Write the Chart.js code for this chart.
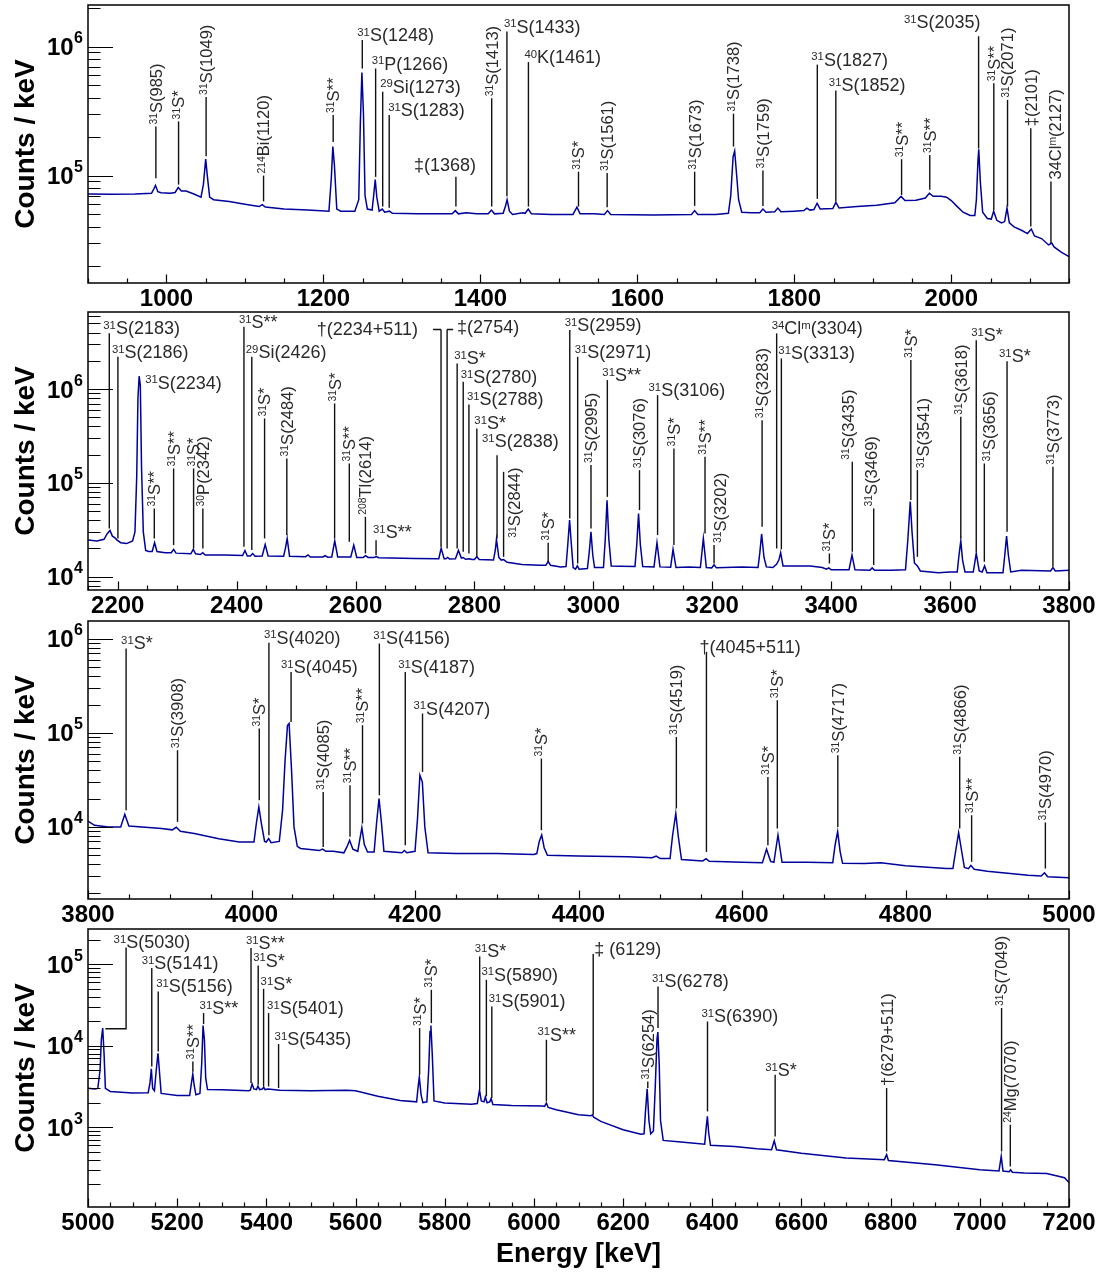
<!DOCTYPE html>
<html>
<head>
<meta charset="utf-8">
<script src="https://cdn.jsdelivr.net/npm/chart.js@4.4.1/dist/chart.umd.min.js"></script>
<style>
  html, body { margin: 0; padding: 0; background: #fff; }
  body { position: relative; width: 1107px; height: 1274px; overflow: hidden; }
  canvas { position: absolute; left: 0; }
</style>
</head>
<body>
<canvas id="c1" width="1107" height="323" style="top:0px"></canvas>
<canvas id="c2" width="1107" height="323" style="top:307px"></canvas>
<canvas id="c3" width="1107" height="323" style="top:616px"></canvas>
<canvas id="c4" width="1107" height="350" style="top:924px"></canvas>
<script>
// ---- Gamma-ray spectrum, [energy keV, counts/keV] ----
const spectrum1 = [[900,7.2e4],[930,7.15e4],[960,7.2e4],[981,7.3e4],[984,7.9e4],[986,8.4e4],[989,7.5e4],[993,7.35e4],[1005,7.3e4],[1011,7.4e4],[1015,8.1e4],[1019,7.6e4],[1025,7.6e4],[1035,7.2e4],[1044,6.8e4],[1047,8.5e4],[1050,1.34e5],[1052,1.0e5],[1055,6.8e4],[1060,6.5e4],[1080,6.3e4],[1100,6.0e4],[1118,5.75e4],[1122,5.95e4],[1126,5.7e4],[1150,5.5e4],[1180,5.4e4],[1207,5.3e4],[1210,9.5e4],[1212,1.68e5],[1214,1.2e5],[1217,5.5e4],[1222,5.3e4],[1240,5.3e4],[1245,6.5e4],[1247,2.5e5],[1249,6.3e5],[1251,3.0e5],[1253,7.0e4],[1256,5.5e4],[1262,5.4e4],[1264,7.0e4],[1266,9.3e4],[1268,6.8e4],[1271,5.3e4],[1275,5.5e4],[1278,5.2e4],[1284,5.3e4],[1288,5.1e4],[1320,5.05e4],[1364,5.05e4],[1368,5.35e4],[1372,5.05e4],[1382,5.15e4],[1395,5.05e4],[1410,5.05e4],[1414,5.4e4],[1418,5.05e4],[1429,5.1e4],[1432,5.8e4],[1434,6.5e4],[1437,5.3e4],[1441,5.0e4],[1454,5.15e4],[1457,5.1e4],[1461,5.5e4],[1465,5.05e4],[1490,5.0e4],[1518,5.0e4],[1523,5.7e4],[1527,5.05e4],[1545,5.05e4],[1558,5.0e4],[1562,5.35e4],[1566,5.0e4],[1620,4.95e4],[1669,5.0e4],[1673,5.35e4],[1677,5.0e4],[1700,5.0e4],[1716,5.1e4],[1719,7.0e4],[1722,1.4e5],[1724,1.55e5],[1726,1.1e5],[1729,6.5e4],[1733,5.2e4],[1745,5.15e4],[1756,5.15e4],[1760,5.5e4],[1764,5.2e4],[1775,5.25e4],[1779,5.6e4],[1783,5.25e4],[1800,5.3e4],[1812,5.35e4],[1816,5.6e4],[1820,5.4e4],[1825,5.45e4],[1829,6.1e4],[1833,5.5e4],[1849,5.55e4],[1853,6.2e4],[1857,5.6e4],[1880,5.75e4],[1905,5.9e4],[1928,6.15e4],[1936,6.9e4],[1941,6.4e4],[1955,6.45e4],[1967,6.7e4],[1972,7.3e4],[1977,6.9e4],[1987,6.9e4],[1994,6.8e4],[2000,6.4e4],[2007,5.8e4],[2015,5.2e4],[2024,4.9e4],[2030,4.9e4],[2032,6.5e4],[2034,1.3e5],[2035,1.6e5],[2037,9.0e4],[2040,5.2e4],[2046,4.65e4],[2051,4.6e4],[2054,5.3e4],[2058,4.5e4],[2064,4.3e4],[2068,4.4e4],[2071,5.6e4],[2074,4.3e4],[2080,4.0e4],[2090,3.75e4],[2097,3.55e4],[2102,3.85e4],[2106,3.4e4],[2115,3.25e4],[2124,2.9e4],[2128,3.0e4],[2131,2.8e4],[2140,2.55e4],[2150,2.35e4]];

const spectrum2 = [[2150,2.45e4],[2165,2.4e4],[2177,2.5e4],[2182,2.85e4],[2187,3.1e4],[2191,2.7e4],[2195,2.6e4],[2199,2.45e4],[2205,2.3e4],[2215,2.25e4],[2225,2.4e4],[2229,3.0e4],[2232,1.2e5],[2234,8e5],[2236,1.37e6],[2238,1.1e6],[2240,1.5e5],[2243,3.0e4],[2247,1.9e4],[2252,1.85e4],[2258,1.85e4],[2262,2.3e4],[2266,1.85e4],[2280,1.8e4],[2290,1.8e4],[2294,1.95e4],[2298,1.78e4],[2323,1.75e4],[2327,1.95e4],[2331,1.75e4],[2339,1.72e4],[2343,1.8e4],[2347,1.7e4],[2380,1.7e4],[2410,1.68e4],[2414,1.9e4],[2418,1.66e4],[2423,1.66e4],[2427,1.76e4],[2431,1.65e4],[2443,1.66e4],[2448,2.2e4],[2453,1.66e4],[2479,1.65e4],[2482,2.0e4],[2485,2.55e4],[2489,1.65e4],[2516,1.63e4],[2520,1.7e4],[2524,1.62e4],[2545,1.62e4],[2549,1.67e4],[2553,1.61e4],[2560,1.62e4],[2565,2.4e4],[2570,1.62e4],[2592,1.62e4],[2597,2.17e4],[2602,1.6e4],[2613,1.6e4],[2617,1.67e4],[2621,1.6e4],[2631,1.6e4],[2635,1.64e4],[2639,1.59e4],[2700,1.56e4],[2740,1.55e4],[2744,2.0e4],[2749,1.55e4],[2752,1.55e4],[2755,1.6e4],[2758,1.54e4],[2768,1.55e4],[2773,1.9e4],[2778,1.58e4],[2781,1.6e4],[2785,1.53e4],[2791,1.55e4],[2796,1.52e4],[2800,1.52e4],[2804,1.63e4],[2808,1.52e4],[2832,1.5e4],[2835,1.9e4],[2837,2.5e4],[2841,1.6e4],[2845,1.5e4],[2849,1.52e4],[2855,1.42e4],[2880,1.35e4],[2910,1.32e4],[2920,1.32e4],[2924,1.45e4],[2928,1.32e4],[2945,1.27e4],[2954,1.28e4],[2957,2.2e4],[2960,4.0e4],[2963,2.2e4],[2966,1.25e4],[2970,1.2e4],[2973,1.3e4],[2976,1.2e4],[2990,1.22e4],[2993,1.8e4],[2996,3.0e4],[2999,1.7e4],[3002,1.25e4],[3017,1.25e4],[3020,2.5e4],[3023,6.5e4],[3026,2.5e4],[3030,1.3e4],[3045,1.29e4],[3070,1.28e4],[3073,2.2e4],[3076,4.7e4],[3079,2.2e4],[3083,1.28e4],[3102,1.27e4],[3107,2.3e4],[3112,1.27e4],[3130,1.26e4],[3134,1.95e4],[3139,1.25e4],[3160,1.27e4],[3180,1.25e4],[3185,2.55e4],[3190,1.25e4],[3199,1.24e4],[3203,1.34e4],[3207,1.24e4],[3250,1.27e4],[3277,1.25e4],[3280,1.8e4],[3283,2.85e4],[3287,1.6e4],[3291,1.27e4],[3302,1.25e4],[3308,1.35e4],[3312,1.5e4],[3315,1.8e4],[3319,1.3e4],[3340,1.3e4],[3365,1.3e4],[3385,1.25e4],[3392,1.2e4],[3396,1.24e4],[3400,1.18e4],[3430,1.18e4],[3435,1.7e4],[3440,1.18e4],[3465,1.17e4],[3469,1.24e4],[3473,1.17e4],[3500,1.17e4],[3525,1.18e4],[3529,2.5e4],[3533,6.3e4],[3536,3.0e4],[3540,1.4e4],[3545,1.3e4],[3550,1.15e4],[3580,1.1e4],[3600,1.12e4],[3612,1.12e4],[3615,1.7e4],[3618,2.4e4],[3621,1.5e4],[3625,1.12e4],[3639,1.12e4],[3644,1.77e4],[3649,1.15e4],[3654,1.12e4],[3658,1.3e4],[3662,1.1e4],[3689,1.1e4],[3692,1.7e4],[3695,2.7e4],[3698,1.7e4],[3702,1.12e4],[3720,1.17e4],[3769,1.15e4],[3773,1.25e4],[3777,1.15e4],[3800,1.17e4]];

const spectrum3 = [[3800,1.15e4],[3808,1.04e4],[3825,1.0e4],[3840,1.0e4],[3845,1.36e4],[3850,1.02e4],[3870,9.9e3],[3890,9.6e3],[3903,9.3e3],[3908,9.9e3],[3913,9.0e3],[3930,8.5e3],[3960,7.5e3],[3985,6.9e3],[4003,6.9e3],[4006,1.1e4],[4009,1.63e4],[4012,1.1e4],[4016,7.0e3],[4018,6.9e3],[4021,7.5e3],[4024,6.8e3],[4034,7.0e3],[4038,1.5e4],[4041,5.0e4],[4044,1.2e5],[4046,1.26e5],[4049,4.0e4],[4052,1.0e4],[4056,6.2e3],[4060,5.9e3],[4083,5.6e3],[4087,5.8e3],[4091,5.5e3],[4100,5.5e3],[4113,5.3e3],[4117,6.2e3],[4120,7.2e3],[4124,5.8e3],[4130,5.5e3],[4133,7.8e3],[4135,9.8e3],[4138,6.5e3],[4142,5.4e3],[4150,5.4e3],[4153,1.1e4],[4156,2.0e4],[4159,1.1e4],[4162,5.5e3],[4184,5.3e3],[4187,5.6e3],[4190,5.3e3],[4200,5.5e3],[4203,1.2e4],[4206,3.55e4],[4209,3.0e4],[4212,1.0e4],[4216,5.3e3],[4250,5.2e3],[4300,5.2e3],[4345,5.1e3],[4349,5.2e3],[4352,7.0e3],[4355,8.2e3],[4358,6.0e3],[4362,5.0e3],[4400,4.9e3],[4460,4.8e3],[4490,4.7e3],[4495,4.9e3],[4500,4.6e3],[4512,4.6e3],[4515,8.0e3],[4519,1.39e4],[4522,8.0e3],[4526,4.5e3],[4552,4.35e3],[4556,4.6e3],[4560,4.3e3],[4600,4.2e3],[4625,4.15e3],[4630,5.8e3],[4635,4.3e3],[4639,4.2e3],[4644,8.2e3],[4649,4.2e3],[4680,4.2e3],[4711,4.15e3],[4714,6.5e3],[4717,8.9e3],[4720,5.5e3],[4723,4.1e3],[4750,4.07e3],[4770,4.15e3],[4800,3.85e3],[4850,3.6e3],[4858,3.6e3],[4862,6.0e3],[4865,8.7e3],[4868,6.0e3],[4872,3.7e3],[4877,3.6e3],[4880,3.9e3],[4884,3.55e3],[4900,3.38e3],[4950,3.06e3],[4966,3.0e3],[4970,3.25e3],[4974,2.95e3],[5000,2.87e3]];

const spectrum4 = [[5000,3.0e3],[5015,2.95e3],[5022,3.0e3],[5027,5.0e3],[5030,1.2e4],[5033,1.65e4],[5036,8.0e3],[5039,3.0e3],[5050,2.75e3],[5100,2.63e3],[5135,2.65e3],[5139,3.5e3],[5142,5.2e3],[5145,3.0e3],[5149,2.8e3],[5153,5.0e3],[5157,8.1e3],[5160,5.0e3],[5164,2.6e3],[5200,2.46e3],[5228,2.45e3],[5232,3.5e3],[5235,4.5e3],[5238,3.3e3],[5242,2.5e3],[5251,2.6e3],[5255,6.0e3],[5258,1.77e4],[5261,1.2e4],[5264,4.0e3],[5268,2.9e3],[5300,2.88e3],[5360,2.8e3],[5364,2.85e3],[5368,3.4e3],[5372,2.95e3],[5378,2.9e3],[5381,3.2e3],[5385,2.9e3],[5391,2.95e3],[5394,3.1e3],[5397,2.9e3],[5404,2.95e3],[5430,2.85e3],[5500,2.8e3],[5580,2.85e3],[5600,2.8e3],[5650,2.4e3],[5700,2.13e3],[5737,2.05e3],[5740,3.0e3],[5743,4.1e3],[5747,2.5e3],[5751,2.0e3],[5760,2.05e3],[5764,5.0e3],[5767,1.5e4],[5769,1.77e4],[5772,8.0e3],[5776,2.1e3],[5800,1.98e3],[5860,1.92e3],[5873,1.95e3],[5878,2.85e3],[5882,2.1e3],[5888,2.05e3],[5891,2.35e3],[5895,2.0e3],[5901,2.05e3],[5904,2.25e3],[5908,1.9e3],[5950,1.85e3],[6020,1.82e3],[6024,1.8e3],[6028,1.98e3],[6032,1.75e3],[6050,1.64e3],[6100,1.42e3],[6128,1.38e3],[6131,1.42e3],[6134,1.33e3],[6150,1.18e3],[6200,9.3e2],[6240,8.2e2],[6247,8.3e2],[6250,1.5e3],[6254,2.97e3],[6258,1.2e3],[6262,8.3e2],[6268,9.0e2],[6272,3.0e3],[6276,1.2e4],[6278,1.47e4],[6281,6.0e3],[6284,1.2e3],[6290,6.9e2],[6330,6.6e2],[6383,6.2e2],[6386,9.5e2],[6389,1.36e3],[6392,8.5e2],[6396,6.0e2],[6450,5.8e2],[6500,5.45e2],[6533,5.3e2],[6539,6.8e2],[6544,5.3e2],[6600,4.8e2],[6700,4.2e2],[6786,4.0e2],[6791,4.6e2],[6795,3.9e2],[6900,3.47e2],[7000,3.0e2],[7043,2.9e2],[7048,4.4e2],[7052,2.9e2],[7066,2.85e2],[7069,3.0e2],[7073,2.8e2],[7100,2.74e2],[7150,2.7e2],[7190,2.4e2],[7200,2.1e2]];

// ---- Line identifications: e = energy of marker line, top/bot = log10(counts) of line ends ----
// v: vertical text (tx/ty shift it in px); otherwise horizontal text at line top (dx/dy in px)
const labels1 = [
  {e:986.5, top:5.38, bot:4.98, t:'^{31}S(985)', v:true},
  {e:1015.4, top:5.42, bot:4.93, t:'^{31}S*', v:true},
  {e:1050.5, top:5.61, bot:5.15, t:'^{31}S(1049)', v:true},
  {e:1123.7, top:5.0, bot:4.80, t:'^{214}Bi(1120)', v:true},
  {e:1212.4, top:5.47, bot:5.26, t:'^{31}S**', v:true},
  {e:1249.5, top:6.05, bot:5.83, t:'^{31}S(1248)', dx:-5},
  {e:1266.5, top:5.83, bot:4.99, t:'^{31}P(1266)', dx:-4},
  {e:1275.5, top:5.65, bot:4.76, t:'^{29}Si(1273)', dx:-2.5},
  {e:1283.8, top:5.47, bot:4.75, t:'^{31}S(1283)', dx:-1},
  {e:1368.8, top:4.99, bot:4.76, t:'‡(1368)', dx:-42, dy:-6},
  {e:1414.4, top:5.60, bot:4.76, t:'^{31}S(1413)', v:true},
  {e:1433.8, top:6.116, bot:4.84, t:'^{31}S(1433)', dx:-3},
  {e:1461.2, top:5.88, bot:4.76, t:'^{40}K(1461)', dx:-4},
  {e:1525, top:5.03, bot:4.76, t:'^{31}S*', v:true},
  {e:1561.5, top:5.02, bot:4.755, t:'^{31}S(1561)', v:true},
  {e:1673, top:5.03, bot:4.765, t:'^{31}S(1673)', v:true},
  {e:1722.5, top:5.48, bot:5.225, t:'^{31}S(1738)', v:true},
  {e:1760, top:5.04, bot:4.765, t:'^{31}S(1759)', v:true},
  {e:1829.3, top:5.86, bot:4.82, t:'^{31}S(1827)', dx:-6},
  {e:1852.9, top:5.66, bot:4.80, t:'^{31}S(1852)', dx:-7},
  {e:1936.7, top:5.127, bot:4.85, t:'^{31}S**', v:true},
  {e:1972.6, top:5.16, bot:4.89, t:'^{31}S**', v:true},
  {e:2034.8, top:6.08, bot:5.21, t:'^{31}S(2035)', right:true, dx:2, dy:-8},
  {e:2054.2, top:5.716, bot:4.734, t:'^{31}S**', v:true},
  {e:2071.7, top:5.587, bot:4.76, t:'^{31}S(2071)', v:true},
  {e:2101.3, top:5.367, bot:4.605, t:'‡(2101)', v:true},
  {e:2127, top:4.954, bot:4.476, t:'34Cl^{m}(2127)', v:true, tx:4}
];

const labels2 = [
  {e:2185.8, top:6.593, bot:4.514, t:'^{31}S(2183)', dx:-6},
  {e:2200.3, top:6.343, bot:4.407, t:'^{31}S(2186)', dx:-6},
  {e:2236, top:6.016, t:'^{31}S(2234)', dx:6, noLine:true},
  {e:2261.5, top:4.727, bot:4.407, t:'^{31}S**', v:true},
  {e:2294, top:5.153, bot:4.336, t:'^{31}S**', v:true},
  {e:2327.6, top:5.153, bot:4.30, t:'^{31}S*', v:true},
  {e:2343.2, top:4.727, bot:4.30, t:'^{30}P(2342)', v:true},
  {e:2412.3, top:6.663, bot:4.318, t:'^{31}S**', dx:-5},
  {e:2425.5, top:6.343, bot:4.283, t:'^{29}Si(2426)', dx:-6},
  {e:2447, top:5.686, bot:4.407, t:'^{31}S*', v:true},
  {e:2484.4, top:5.26, bot:4.442, t:'^{31}S(2484)', v:true},
  {e:2564.8, top:5.846, bot:4.407, t:'^{31}S*', v:true},
  {e:2589.5, top:5.206, bot:4.371, t:'^{31}S**', v:true},
  {e:2616.6, top:4.638, bot:4.247, t:'^{208}Tl(2614)', v:true},
  {e:2634.5, top:4.389, bot:4.229, t:'^{31}S**', dx:-3, dy:-2},
  {e:2743.8, top:6.635, bot:4.318, t:'†(2234+511)', right:true, dx:-23, dy:5.5, hook:-8},
  {e:2754, top:6.635, bot:4.30, t:'‡(2754)', dx:10, dy:3.5, hook:6},
  {e:2770.9, top:6.273, bot:4.30, t:'^{31}S*', dx:-3},
  {e:2781.1, top:6.077, bot:4.264, t:'^{31}S(2780)', dx:-2.5},
  {e:2790.7, top:5.836, bot:4.247, t:'^{31}S(2788)', dx:-2},
  {e:2804, top:5.58, bot:4.211, t:'^{31}S*', dx:-2.5},
  {e:2838, top:5.295, bot:4.407, t:'^{31}S(2838)', dx:-15, dy:-8},
  {e:2849, top:5.117, bot:4.211, t:'^{31}S(2844)', v:true, tx:11, ty:68},
  {e:2924, top:4.36, bot:4.158, t:'^{31}S*', v:true},
  {e:2960.3, top:6.628, bot:4.62, t:'^{31}S(2959)', dx:-5},
  {e:2973.6, top:6.343, bot:4.14, t:'^{31}S(2971)', dx:-3},
  {e:2996, top:5.189, bot:4.514, t:'^{31}S(2995)', v:true},
  {e:3023.5, top:6.095, bot:4.85, t:'^{31}S**', dx:-5},
  {e:3077.6, top:5.135, bot:4.709, t:'^{31}S(3076)', v:true},
  {e:3108, top:5.935, bot:4.442, t:'^{31}S(3106)', dx:-9},
  {e:3135.5, top:5.367, bot:4.336, t:'^{31}S*', v:true},
  {e:3187.8, top:5.277, bot:4.46, t:'^{31}S**', v:true},
  {e:3203, top:4.336, bot:4.14, t:'^{31}S(3202)', v:true, tx:6},
  {e:3283.8, top:5.668, bot:4.531, t:'^{31}S(3283)', v:true},
  {e:3308.3, top:6.593, bot:4.30, t:'^{34}Cl^{m}(3304)', dx:-5},
  {e:3316.2, top:6.326, bot:4.29, t:'^{31}S(3313)', dx:-3},
  {e:3397, top:4.247, bot:4.14, t:'^{31}S*', v:true},
  {e:3435.5, top:5.224, bot:4.264, t:'^{31}S(3435)', v:true, tx:-4},
  {e:3471.5, top:4.727, bot:4.123, t:'^{31}S(3469)', v:true, tx:-3},
  {e:3534, top:6.308, bot:4.816, t:'^{31}S*', v:true},
  {e:3545, top:5.135, bot:4.211, t:'^{31}S(3541)', v:true, tx:6},
  {e:3618, top:5.704, bot:4.407, t:'^{31}S(3618)', v:true},
  {e:3644, top:6.52, bot:4.264, t:'^{31}S*', dx:-5},
  {e:3657.6, top:5.206, bot:4.158, t:'^{31}S(3656)', v:true, tx:5},
  {e:3695.8, top:6.297, bot:4.478, t:'^{31}S*', dx:-8},
  {e:3773, top:5.17, bot:4.104, t:'^{31}S(3773)', v:true}
];

const labels3 = [
  {e:3846.6, top:5.898, bot:4.178, t:'^{31}S*', dx:-5},
  {e:3909.5, top:4.816, bot:4.053, t:'^{31}S(3908)', v:true},
  {e:4009.5, top:5.047, bot:4.284, t:'^{31}S*', v:true},
  {e:4021.3, top:5.96, bot:3.912, t:'^{31}S(4020)', dx:-5},
  {e:4048.4, top:5.649, bot:5.117, t:'^{31}S(4045)', dx:-10},
  {e:4087.7, top:4.372, bot:3.787, t:'^{31}S(4085)', v:true},
  {e:4120.5, top:4.444, bot:3.894, t:'^{31}S**', v:true},
  {e:4135.8, top:5.082, bot:4.036, t:'^{31}S**', v:true},
  {e:4156.4, top:5.951, bot:4.337, t:'^{31}S(4156)', dx:-6},
  {e:4188.1, top:5.649, bot:3.805, t:'^{31}S(4187)', dx:-7},
  {e:4209.2, top:5.206, bot:4.585, t:'^{31}S(4207)', dx:-9},
  {e:4354.6, top:4.727, bot:3.965, t:'^{31}S*', v:true},
  {e:4519.7, top:4.957, bot:4.196, t:'^{31}S(4519)', v:true},
  {e:4556.5, top:5.862, bot:3.734, t:'†(4045+511)', dx:-7},
  {e:4631.7, top:4.532, bot:3.805, t:'^{31}S*', v:true},
  {e:4643.2, top:5.348, bot:3.983, t:'^{31}S*', v:true},
  {e:4717.2, top:4.763, bot:4.0, t:'^{31}S(4717)', v:true},
  {e:4866.3, top:4.745, bot:3.983, t:'^{31}S(4866)', v:true},
  {e:4880.9, top:4.124, bot:3.628, t:'^{31}S**', v:true},
  {e:4971.1, top:4.047, bot:3.557, t:'^{31}S(4970)', v:true}
];

const labels4 = [
  {e:5085.4, top:5.206, bot:4.209, t:'^{31}S(5030)', dx:-12.5, foot:5039},
  {e:5143, top:4.953, bot:3.746, t:'^{31}S(5141)', dx:-10},
  {e:5157.5, top:4.666, bot:3.93, t:'^{31}S(5156)', dx:-2},
  {e:5235.2, top:3.807, bot:3.685, t:'^{31}S**', v:true},
  {e:5259.2, top:4.401, bot:4.266, t:'^{31}S**', dx:-4},
  {e:5365.6, top:5.199, bot:3.542, t:'^{31}S**', dx:-5},
  {e:5381.7, top:4.985, bot:3.521, t:'^{31}S*', dx:-5},
  {e:5393.8, top:4.699, bot:3.501, t:'^{31}S*', dx:-3},
  {e:5405, top:4.401, bot:3.501, t:'^{31}S(5401)', dx:-1.5},
  {e:5427.4, top:4.021, bot:3.481, t:'^{31}S(5435)', dx:-4},
  {e:5743.7, top:4.217, bot:3.644, t:'^{31}S*', v:true},
  {e:5770, top:4.687, bot:4.278, t:'^{31}S*', v:true},
  {e:5878.4, top:5.096, bot:3.46, t:'^{31}S*', dx:-5},
  {e:5893.4, top:4.81, bot:3.378, t:'^{31}S(5890)', dx:-5},
  {e:5905.6, top:4.482, bot:3.358, t:'^{31}S(5901)', dx:-3},
  {e:6028, top:4.074, bot:3.317, t:'^{31}S**', dx:-9},
  {e:6133, top:5.125, bot:3.153, t:'‡ (6129)', dx:1},
  {e:6255.4, top:3.562, bot:3.481, t:'^{31}S(6254)', v:true},
  {e:6278.3, top:4.728, bot:4.217, t:'^{31}S(6278)', dx:-6},
  {e:6389.3, top:4.298, bot:3.194, t:'^{31}S(6390)', dx:-6},
  {e:6541, top:3.644, bot:2.887, t:'^{31}S*', dx:-10},
  {e:6791, top:3.481, bot:2.703, t:'†(6279+511)', v:true},
  {e:7048.8, top:4.463, bot:2.703, t:'^{31}S(7049)', v:true},
  {e:7068.4, top:3.031, bot:2.519, t:'^{24}Mg(7070)', v:true}
];

// ---- Axis ranges per panel ----
const xRanges = [[900, 2150], [2150, 3800], [3800, 5000], [5000, 7200]];
const yRanges = [[1.47e4, 2.1e6], [7.2e3, 6.62e6], [1.71e3, 1.55e6], [105, 2.71e5]];
const xTitle = 'Energy [keV]';
const yTitle = 'Counts / keV';

const FAMILY = '"Liberation Sans", Arial, Helvetica, sans-serif';
const LINE_COLOR = '#00009c';

// rich text with ^{...} superscripts
function parseRich(str) {
  const segs = [];
  const re = /\^\{([^}]*)\}|([^^]+)/g;
  let m;
  while ((m = re.exec(str))) {
    if (m[1] !== undefined) segs.push({t: m[1], sup: true});
    else segs.push({t: m[2], sup: false});
  }
  return segs;
}
function richWidth(ctx, str, size) {
  let w = 0;
  for (const s of parseRich(str)) {
    ctx.font = `${s.sup ? size * 0.63 : size}px ${FAMILY}`;
    w += ctx.measureText(s.t).width;
  }
  return w;
}
function drawRich(ctx, str, x, y, size) {
  let cx = x;
  const rise = 0.716 * size * 0.37 + 0.5;
  for (const s of parseRich(str)) {
    ctx.font = `${s.sup ? size * 0.63 : size}px ${FAMILY}`;
    ctx.fillText(s.t, cx, s.sup ? y - rise : y);
    cx += ctx.measureText(s.t).width;
  }
}

const spectrumPlugin = {
  id: 'spectrumDecor',
  afterDatasetsDraw(chart, args, opts) {
    const ctx = chart.ctx;
    const xs = chart.scales.x, ys = chart.scales.y;
    const area = chart.chartArea;
    ctx.save();
    ctx.strokeStyle = '#000';
    ctx.lineWidth = 1.2;
    // x tick marks (inside, every 50 keV, longer every 200 keV)
    ctx.beginPath();
    for (let v = Math.ceil(xs.min / 50) * 50; v <= xs.max; v += 50) {
      const px = Math.round(xs.getPixelForValue(v)) + 0.5;
      const len = (v % 200 === 0) ? 8.5 : 4.5;
      ctx.moveTo(px, area.bottom);
      ctx.lineTo(px, area.bottom - len);
    }
    // y tick marks (decades long, 2..9 short)
    const n0 = Math.floor(Math.log10(ys.min)), n1 = Math.ceil(Math.log10(ys.max));
    for (let n = n0; n <= n1; n++) {
      for (let k = 1; k <= 9; k++) {
        const v = k * Math.pow(10, n);
        if (v < ys.min || v > ys.max) continue;
        const py = Math.round(ys.getPixelForValue(v)) + 0.5;
        ctx.moveTo(area.left, py);
        ctx.lineTo(area.left + (k === 1 ? 25 : 12.5), py);
      }
    }
    ctx.stroke();
    // y tick labels 10^n
    ctx.fillStyle = '#000';
    ctx.textBaseline = 'alphabetic';
    for (let n = n0; n <= n1; n++) {
      const v = Math.pow(10, n);
      if (v < ys.min || v > ys.max) continue;
      const py = ys.getPixelForValue(v);
      ctx.font = `bold 16px ${FAMILY}`;
      const ew = ctx.measureText(String(n)).width;
      const right = area.left - 5;
      ctx.textAlign = 'left';
      ctx.fillText(String(n), right - ew, py - 3.5);
      ctx.font = `bold 24px ${FAMILY}`;
      ctx.textAlign = 'right';
      ctx.fillText('10', right - ew - 0.5, py + 8.6);
    }
    // frame
    ctx.lineWidth = 1.5;
    ctx.strokeRect(area.left, area.top, area.right - area.left, area.bottom - area.top);
    // line identifications
    const H = 18, V = 16.5;
    ctx.textAlign = 'left';
    ctx.textBaseline = 'alphabetic';
    ctx.strokeStyle = '#111';
    ctx.fillStyle = '#2a2a2a';
    ctx.lineWidth = 1.4;
    for (const lb of opts.labels) {
      const x = xs.getPixelForValue(lb.e);
      const yTop = ys.getPixelForValue(Math.pow(10, lb.top));
      if (!lb.noLine) {
        const yBot = ys.getPixelForValue(Math.pow(10, lb.bot));
        ctx.beginPath();
        ctx.moveTo(x, yTop);
        ctx.lineTo(x, yBot);
        if (lb.foot !== undefined) ctx.lineTo(xs.getPixelForValue(lb.foot), yBot);
        if (lb.hook) { ctx.moveTo(x, yTop); ctx.lineTo(x + lb.hook, yTop); }
        ctx.stroke();
      }
      if (lb.v) {
        ctx.save();
        ctx.translate(x + (lb.tx || 0), yTop - 2 + (lb.ty || 0));
        ctx.rotate(-Math.PI / 2);
        drawRich(ctx, lb.t, 0, 0.716 * V / 2, V);
        ctx.restore();
      } else {
        const dy = lb.dy !== undefined ? lb.dy : 1;
        let x0;
        if (lb.right) x0 = x + (lb.dx || 0) - richWidth(ctx, lb.t, H);
        else x0 = x + (lb.dx !== undefined ? lb.dx : -5);
        drawRich(ctx, lb.t, x0, yTop + dy, H);
      }
    }
    ctx.restore();
  }
};

const spectra = [spectrum1, spectrum2, spectrum3, spectrum4];
const labelSets = [labels1, labels2, labels3, labels4];

spectra.forEach((spec, i) => {
  const last = i === 3;
  new Chart(document.getElementById('c' + (i + 1)), {
    type: 'line',
    data: {
      datasets: [{
        data: spec.map(([x, y]) => ({x, y})),
        borderColor: LINE_COLOR,
        borderWidth: 1.5,
        pointRadius: 0,
        tension: 0,
        fill: false
      }]
    },
    options: {
      responsive: false,
      animation: false,
      devicePixelRatio: 1,
      events: [],
      layout: {padding: {top: 5, right: 38, left: 0, bottom: 0}},
      plugins: {
        legend: {display: false},
        tooltip: {enabled: false},
        spectrumDecor: {labels: labelSets[i]}
      },
      scales: {
        x: {
          type: 'linear',
          min: xRanges[i][0],
          max: xRanges[i][1],
          grid: {display: false, drawTicks: false},
          border: {display: false},
          ticks: {
            stepSize: 50,
            autoSkip: false,
            maxRotation: 0,
            padding: 2,
            color: '#000',
            font: {family: FAMILY, size: 24, weight: 'bold'},
            callback: v => (v % 200 === 0 ? String(v) : '')
          },
          title: {
            display: last,
            text: xTitle,
            color: '#000',
            font: {family: FAMILY, size: 27, weight: 'bold'},
            padding: {top: 0, bottom: 3}
          },
          afterFit: s => { s.height = last ? 67 : 40; }
        },
        y: {
          type: 'logarithmic',
          min: yRanges[i][0],
          max: yRanges[i][1],
          grid: {display: false, drawTicks: false},
          border: {display: false},
          ticks: {display: false},
          title: {
            display: true,
            text: yTitle,
            color: '#000',
            font: {family: FAMILY, size: 28, weight: 'bold'},
            padding: {top: 9, bottom: 0}
          },
          afterFit: s => { s.width = 88; }
        }
      }
    },
    plugins: [spectrumPlugin]
  });
});
</script>
</body>
</html>
